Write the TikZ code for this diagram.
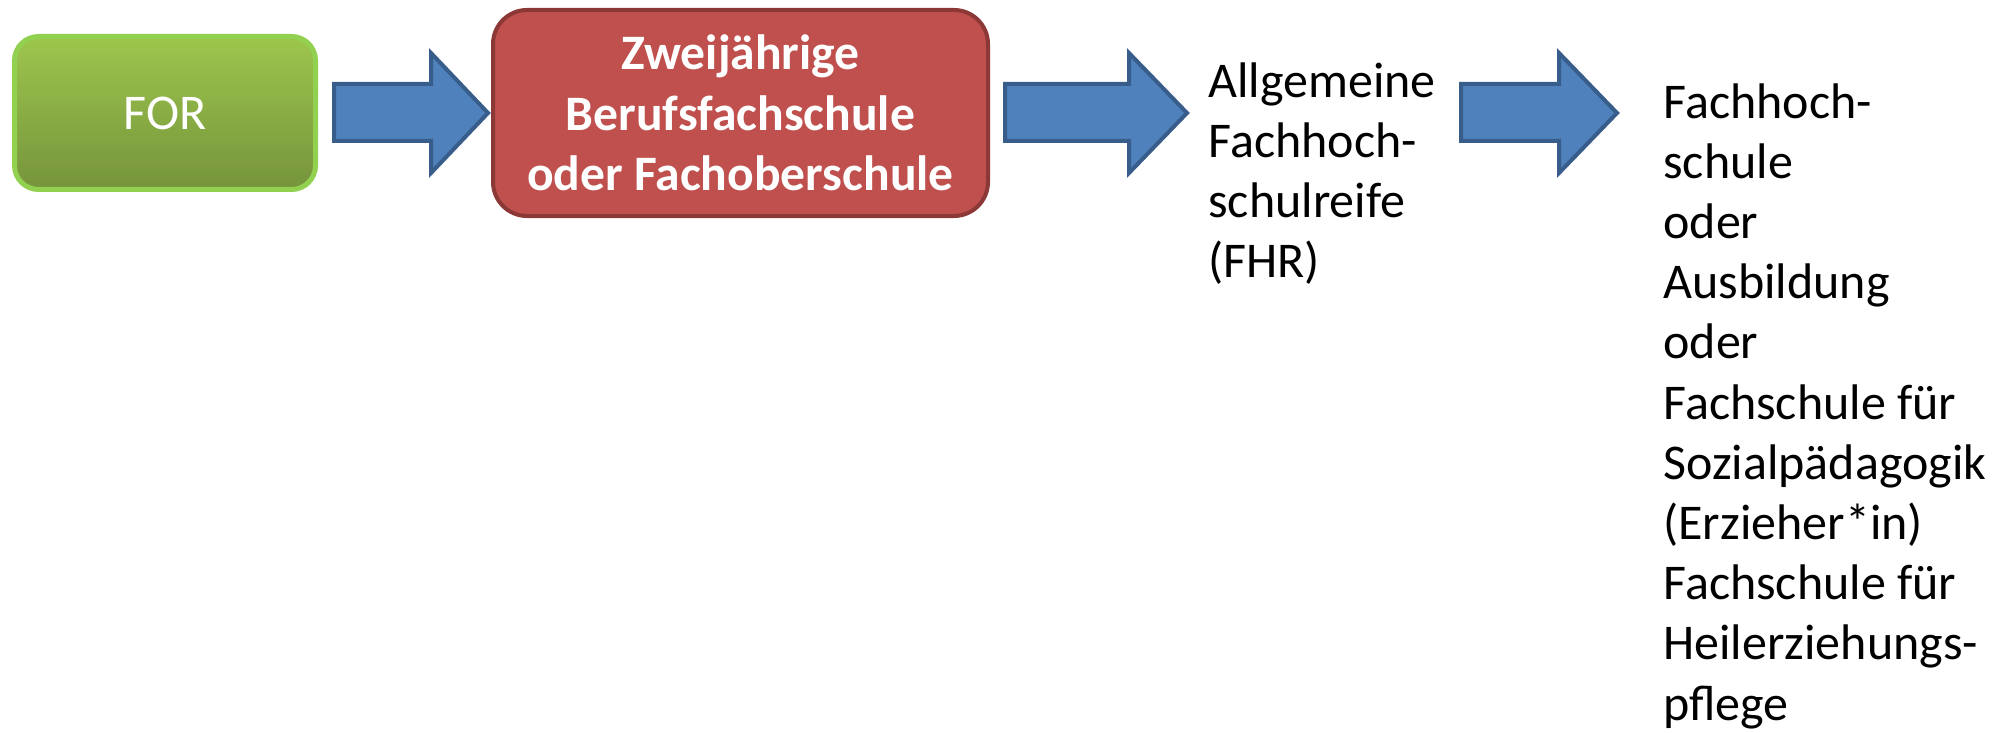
\documentclass[tikz,border=0pt]{standalone}
\usepackage{fontspec}
\setmainfont{Carlito}
\usetikzlibrary{positioning}
\definecolor{grnTop}{RGB}{157,198,77}
\definecolor{grnBot}{RGB}{118,148,60}
\definecolor{grnLine}{RGB}{146,208,80}
\definecolor{redFill}{RGB}{192,80,77}
\definecolor{redLine}{RGB}{140,56,54}
\definecolor{bluFill}{RGB}{79,129,189}
\definecolor{bluLine}{RGB}{56,93,138}
\tikzset{
  greenbox/.style={draw=grnLine, line width=2.5pt, rounded corners=12pt,
    top color=grnTop, bottom color=grnBot, text=white, inner sep=0pt,
    minimum width=150.5pt, minimum height=76.5pt,
    font=\fontsize{25}{30}\selectfont},
  redbox/.style={draw=redLine, fill=redFill, line width=2pt, rounded corners=17pt,
    text=white, align=center, inner sep=0pt,
    minimum width=247.5pt, minimum height=103pt,
    font=\bfseries\fontsize{24.8}{30.3}\selectfont},
  plaintext/.style={align=left, inner sep=0pt, anchor=north west,
    font=\fontsize{25}{30.1}\selectfont},
  blockarrow/.style={draw=bluLine, fill=bluFill, line width=2pt, line join=miter}
}
\newcommand{\blockarr}[3]{%
  \draw[blockarrow] (#1,84) -- (#2,84) -- (#2,53) -- (#3,113) -- (#2,173) -- (#2,141) -- (#1,141) -- cycle;}
\begin{document}
\begin{tikzpicture}[x=0.5pt,y=-0.5pt]
\useasboundingbox (0,0) rectangle (2009,733);
\node[greenbox] (for) at (165,113) {FOR};
\node[redbox] (bfs) at (740.5,113) {Zweijährige\\Berufsfachschule\\oder Fachoberschule};
\node[plaintext] (fhr) at (1208,62) {Allgemeine\\Fachhoch-\\schulreife\\(FHR)};
\node[plaintext] (ziel) at (1663,83) {Fachhoch-\\schule\\oder\\Ausbildung\\oder\\Fachschule für\\Sozialpädagogik\\(Erzieher*in)\\Fachschule für\\Heilerziehungs-\\pflege};
\blockarr{334}{431}{488}
\blockarr{1005}{1129}{1187}
\blockarr{1461}{1559}{1617}
\end{tikzpicture}
\end{document}
